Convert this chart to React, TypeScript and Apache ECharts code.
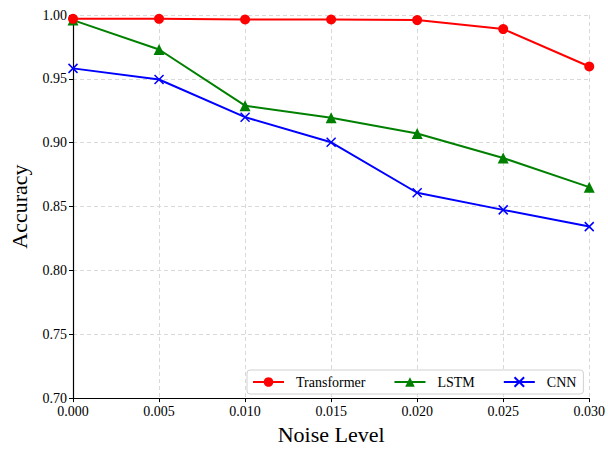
import React, { useEffect, useRef } from "react";
import * as echarts from "echarts";

const noiseLevels = [0.0, 0.005, 0.01, 0.015, 0.02, 0.025, 0.03];
const transformerAcc = [0.997, 0.997, 0.9965, 0.9965, 0.996, 0.989, 0.9597];
const lstmAcc = [0.996, 0.973, 0.929, 0.9195, 0.9072, 0.888, 0.8652];
const cnnAcc = [0.9582, 0.9495, 0.92, 0.9003, 0.8608, 0.8474, 0.8343];
const seriesNames = ["Transformer", "LSTM", "CNN"];

const FONT = "Liberation Serif";

export default function App() {
  const ref = useRef<HTMLDivElement>(null);
  useEffect(() => {
    const chart = echarts.init(ref.current!, null, { renderer: "svg" });
    const pts = (ys: number[]) => noiseLevels.map((x, i) => [x, ys[i]]);
    const axisCommon = {
      axisLine: { show: true, lineStyle: { color: "#000", width: 1.2 } },
      axisTick: { show: true, inside: false, length: 4, lineStyle: { color: "#000" } },
      axisLabel: { color: "#000", fontFamily: FONT, fontSize: 14 },
      splitLine: { show: true, lineStyle: { color: "#d9d9d9", type: [4, 3], width: 1 } },
      nameTextStyle: { color: "#000", fontFamily: FONT, fontSize: 22 },
    };
    chart.setOption({
      animation: false,
      backgroundColor: "#fff",
      grid: { left: 68, right: 17, top: 15, bottom: 47 },
      legend: {
        left: 247,
        top: 370,
        orient: "horizontal",
        itemWidth: 31,
        itemHeight: 12,
        itemGap: 28,
        padding: [5, 7, 5, 5],
        borderColor: "#d0d0d0",
        borderWidth: 1,
        borderRadius: 3,
        backgroundColor: "#fff",
        textStyle: { color: "#000", fontFamily: FONT, fontSize: 14, padding: [0, 0, 0, 7] },
        data: seriesNames,
      },
      xAxis: {
        ...axisCommon,
        type: "value",
        min: 0,
        max: 0.03,
        interval: 0.005,
        name: "Noise Level",
        nameLocation: "middle",
        nameGap: 24,
        axisLabel: { ...axisCommon.axisLabel, formatter: (v: number) => v.toFixed(3), margin: 6 },
      },
      yAxis: {
        ...axisCommon,
        type: "value",
        min: 0.7,
        max: 1.0,
        interval: 0.05,
        name: "Accuracy",
        nameLocation: "middle",
        nameGap: 43,
        axisLabel: { ...axisCommon.axisLabel, formatter: (v: number) => v.toFixed(2), margin: 6 },
      },
      series: [
        {
          name: seriesNames[0],
          type: "line",
          data: pts(transformerAcc),
          symbol: "circle",
          symbolSize: 10,
          lineStyle: { color: "#ff0000", width: 2 },
          itemStyle: { color: "#ff0000" },
          z: 3,
        },
        {
          name: seriesNames[1],
          type: "line",
          data: pts(lstmAcc),
          symbol: "triangle",
          symbolSize: 11,
          lineStyle: { color: "#008000", width: 2 },
          itemStyle: { color: "#008000" },
          z: 2,
        },
        {
          name: seriesNames[2],
          type: "line",
          data: pts(cnnAcc),
          symbol: "path://M0,0 L10,10 M10,0 L0,10",
          symbolSize: 9,
          lineStyle: { color: "#0000ff", width: 2 },
          itemStyle: { color: "#0000ff", borderColor: "#0000ff", borderWidth: 1.5 },
          z: 1,
        },
      ],
    });
    return () => chart.dispose();
  }, []);
  return (
    <div
      ref={ref}
      style={{ position: "fixed", left: 0, top: 0, width: 608, height: 450 }}
    />
  );
}
